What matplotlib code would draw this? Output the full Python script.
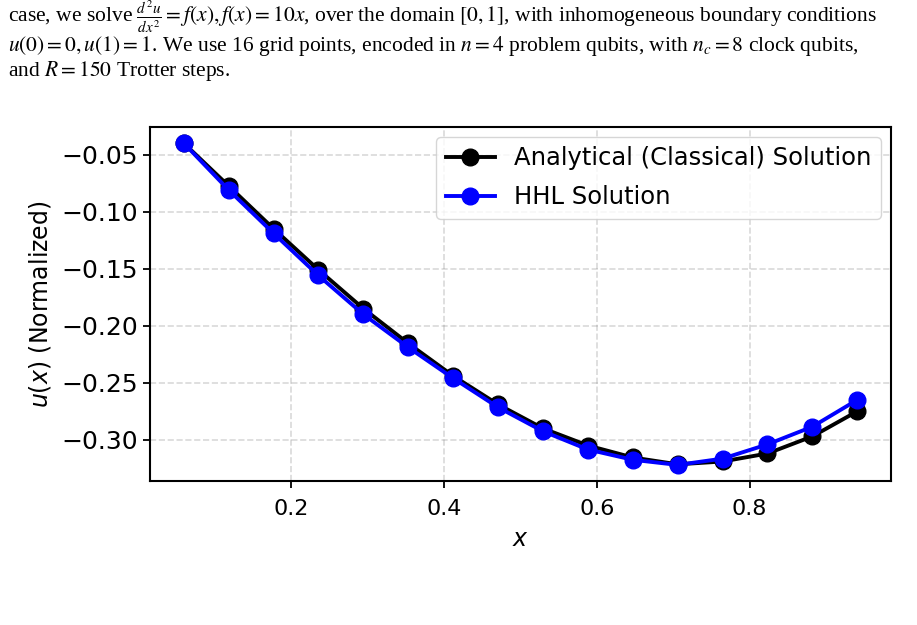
import matplotlib
matplotlib.use('Agg')
import matplotlib.pyplot as plt
import numpy as np

# grid points x = i/17, i = 1..16
x = np.arange(1, 17) / 17
analytical = [-0.040, -0.0775, -0.115, -0.151, -0.185, -0.2155, -0.244, -0.269,
              -0.290, -0.305, -0.3155, -0.3215, -0.319, -0.312, -0.297, -0.275]
hhl = [-0.040, -0.081, -0.119, -0.156, -0.190, -0.219, -0.246, -0.2715,
       -0.2925, -0.3085, -0.3175, -0.3220, -0.3165, -0.304, -0.2885, -0.265]

paper_lines = [
    r"case, we solve $\frac{d^2u}{dx^2} = f(x), f(x) = 10x$, over the domain $[0,1]$, with inhomogeneous boundary conditions",
    r"$u(0) = 0, u(1) = 1$. We use 16 grid points, encoded in $n = 4$ problem qubits, with $n_c = 8$ clock qubits,",
    r"and $R = 150$ Trotter steps.",
]
line_baselines = [22, 51, 76]  # pixels from top

plt.rcParams['mathtext.fontset'] = 'stix'

fig = plt.figure(figsize=(9.17, 6.25), dpi=100)

# surrounding paper text
for line, yb in zip(paper_lines, line_baselines):
    fig.text(8 / 917, 1 - yb / 625, line, fontsize=15.5,
             family='Liberation Serif', va='baseline', ha='left')

ax = fig.add_axes([150 / 917, 1 - 481 / 625, 741 / 917, 354 / 625])
ax.plot(x, analytical, '-o', color='black', lw=2.8, markersize=12,
        label='Analytical (Classical) Solution')
ax.plot(x, hhl, '-o', color='blue', lw=2.8, markersize=12, label='HHL Solution')

ax.set_xlabel(r'$x$', fontsize=17, math_fontfamily='dejavusans', labelpad=6)
ax.set_ylabel(r'$u(x)$ (Normalized)', fontsize=17, math_fontfamily='dejavusans', labelpad=6)
ax.set_xticks([0.2, 0.4, 0.6, 0.8])
ax.set_yticks([-0.05, -0.10, -0.15, -0.20, -0.25, -0.30])
ax.tick_params(axis='x', labelsize=16, width=1.3, length=5, pad=8)
ax.tick_params(axis='y', labelsize=18, width=1.3, length=5)
for s in ax.spines.values():
    s.set_linewidth(1.5)
ax.grid(True, linestyle='--', linewidth=1.2, color='gray', alpha=0.3)
ax.legend(loc='upper right', fontsize=17.5, borderaxespad=0.4, labelspacing=0.6)

plt.savefig('out.png', dpi=100)
plt.close()
